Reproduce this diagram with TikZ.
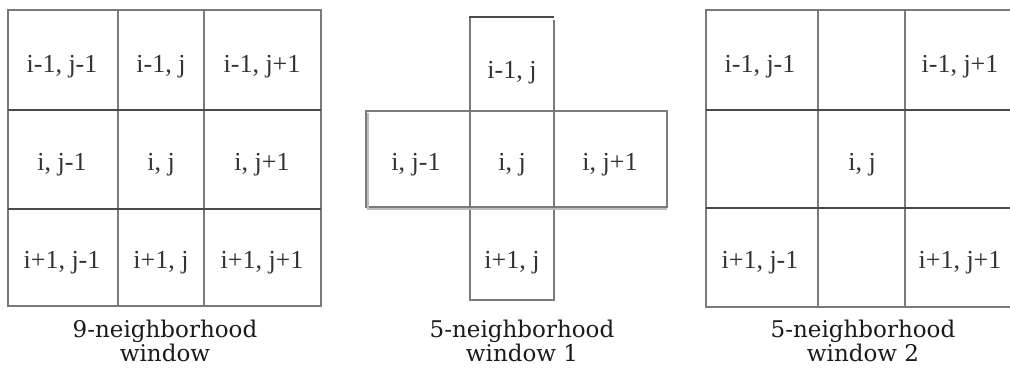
\documentclass[tikz,border=0pt]{standalone}
\usepackage{fontspec}
\setmainfont{Liberation Serif}
\newfontfamily\capfont{DejaVu Serif}
\definecolor{gline}{HTML}{7A7A7A}
\definecolor{dline}{HTML}{4A4A4A}
\definecolor{celltext}{HTML}{333333}
\definecolor{captext}{HTML}{1A1A1A}
\begin{document}
\begin{tikzpicture}[x=1pt,y=-1pt,
  gl/.style={draw=gline,line width=2pt},
  dl/.style={draw=dline,line width=2pt},
  cell/.style={anchor=base,inner sep=0pt,text=celltext,font=\fontsize{26}{26}\selectfont},
  captxt/.style={anchor=base,inner sep=0pt,text=captext,font=\capfont\fontsize{23}{23}\selectfont}]
\useasboundingbox (0,0) rectangle (1010,370);
% ---- grid 1: 9-neighborhood
\draw[gl] (8,10) rectangle (321,306);
\draw[gl] (118,10) -- (118,306);
\draw[gl] (204,10) -- (204,306);
\draw[dl] (8,110) -- (321,110);
\draw[dl] (8,209) -- (321,209);
\node[cell] (a11) at (62,72) {i-1, j-1};
\node[cell] (a12) at (161,72) {i-1, j};
\node[cell] (a13) at (262,72) {i-1, j+1};
\node[cell] (a21) at (62,170) {i, j-1};
\node[cell] (a22) at (161,170) {i, j};
\node[cell] (a23) at (262,170) {i, j+1};
\node[cell] (a31) at (62,268) {i+1, j-1};
\node[cell] (a32) at (161,268) {i+1, j};
\node[cell] (a33) at (262,268) {i+1, j+1};
\node[captxt] (c1a) at (165,337) {9-neighborhood};
\node[captxt] (c1b) at (165,361) {window};
% ---- grid 2: 5-neighborhood window 1
\draw[gl] (470,111) -- (470,17);
\draw[dl] (469,17) -- (554,17);
\draw[gl] (554,20) -- (554,111);
\draw[gl] (366,111) rectangle (667,207);
\draw[gl] (470,111) -- (470,207);
\draw[gl] (554,111) -- (554,207);
\draw[gl] (470,207) -- (470,300) -- (554,300) -- (554,207);
\draw[draw=gline!50,line width=1.5pt] (368,113) -- (368,209) -- (667,209);
\node[cell] (b1) at (512,78) {i-1, j};
\node[cell] (b2) at (416,170) {i, j-1};
\node[cell] (b3) at (512,170) {i, j};
\node[cell] (b4) at (610,170) {i, j+1};
\node[cell] (b5) at (512,268) {i+1, j};
\node[captxt] (c2a) at (522,337) {5-neighborhood};
\node[captxt] (c2b) at (522,361) {window 1};
% ---- grid 3: 5-neighborhood window 2
\draw[gl] (1012,10) -- (706,10) -- (706,307) -- (1012,307);
\draw[gl] (818,10) -- (818,307);
\draw[gl] (905,10) -- (905,307);
\draw[dl] (706,110) -- (1012,110);
\draw[dl] (706,208) -- (1012,208);
\node[cell] (d11) at (760,72) {i-1, j-1};
\node[cell] (d13) at (960,72) {i-1, j+1};
\node[cell] (d22) at (862,170) {i, j};
\node[cell] (d31) at (760,268) {i+1, j-1};
\node[cell] (d33) at (960,268) {i+1, j+1};
\node[captxt] (c3a) at (863,337) {5-neighborhood};
\node[captxt] (c3b) at (863,361) {window 2};
\end{tikzpicture}
\end{document}
